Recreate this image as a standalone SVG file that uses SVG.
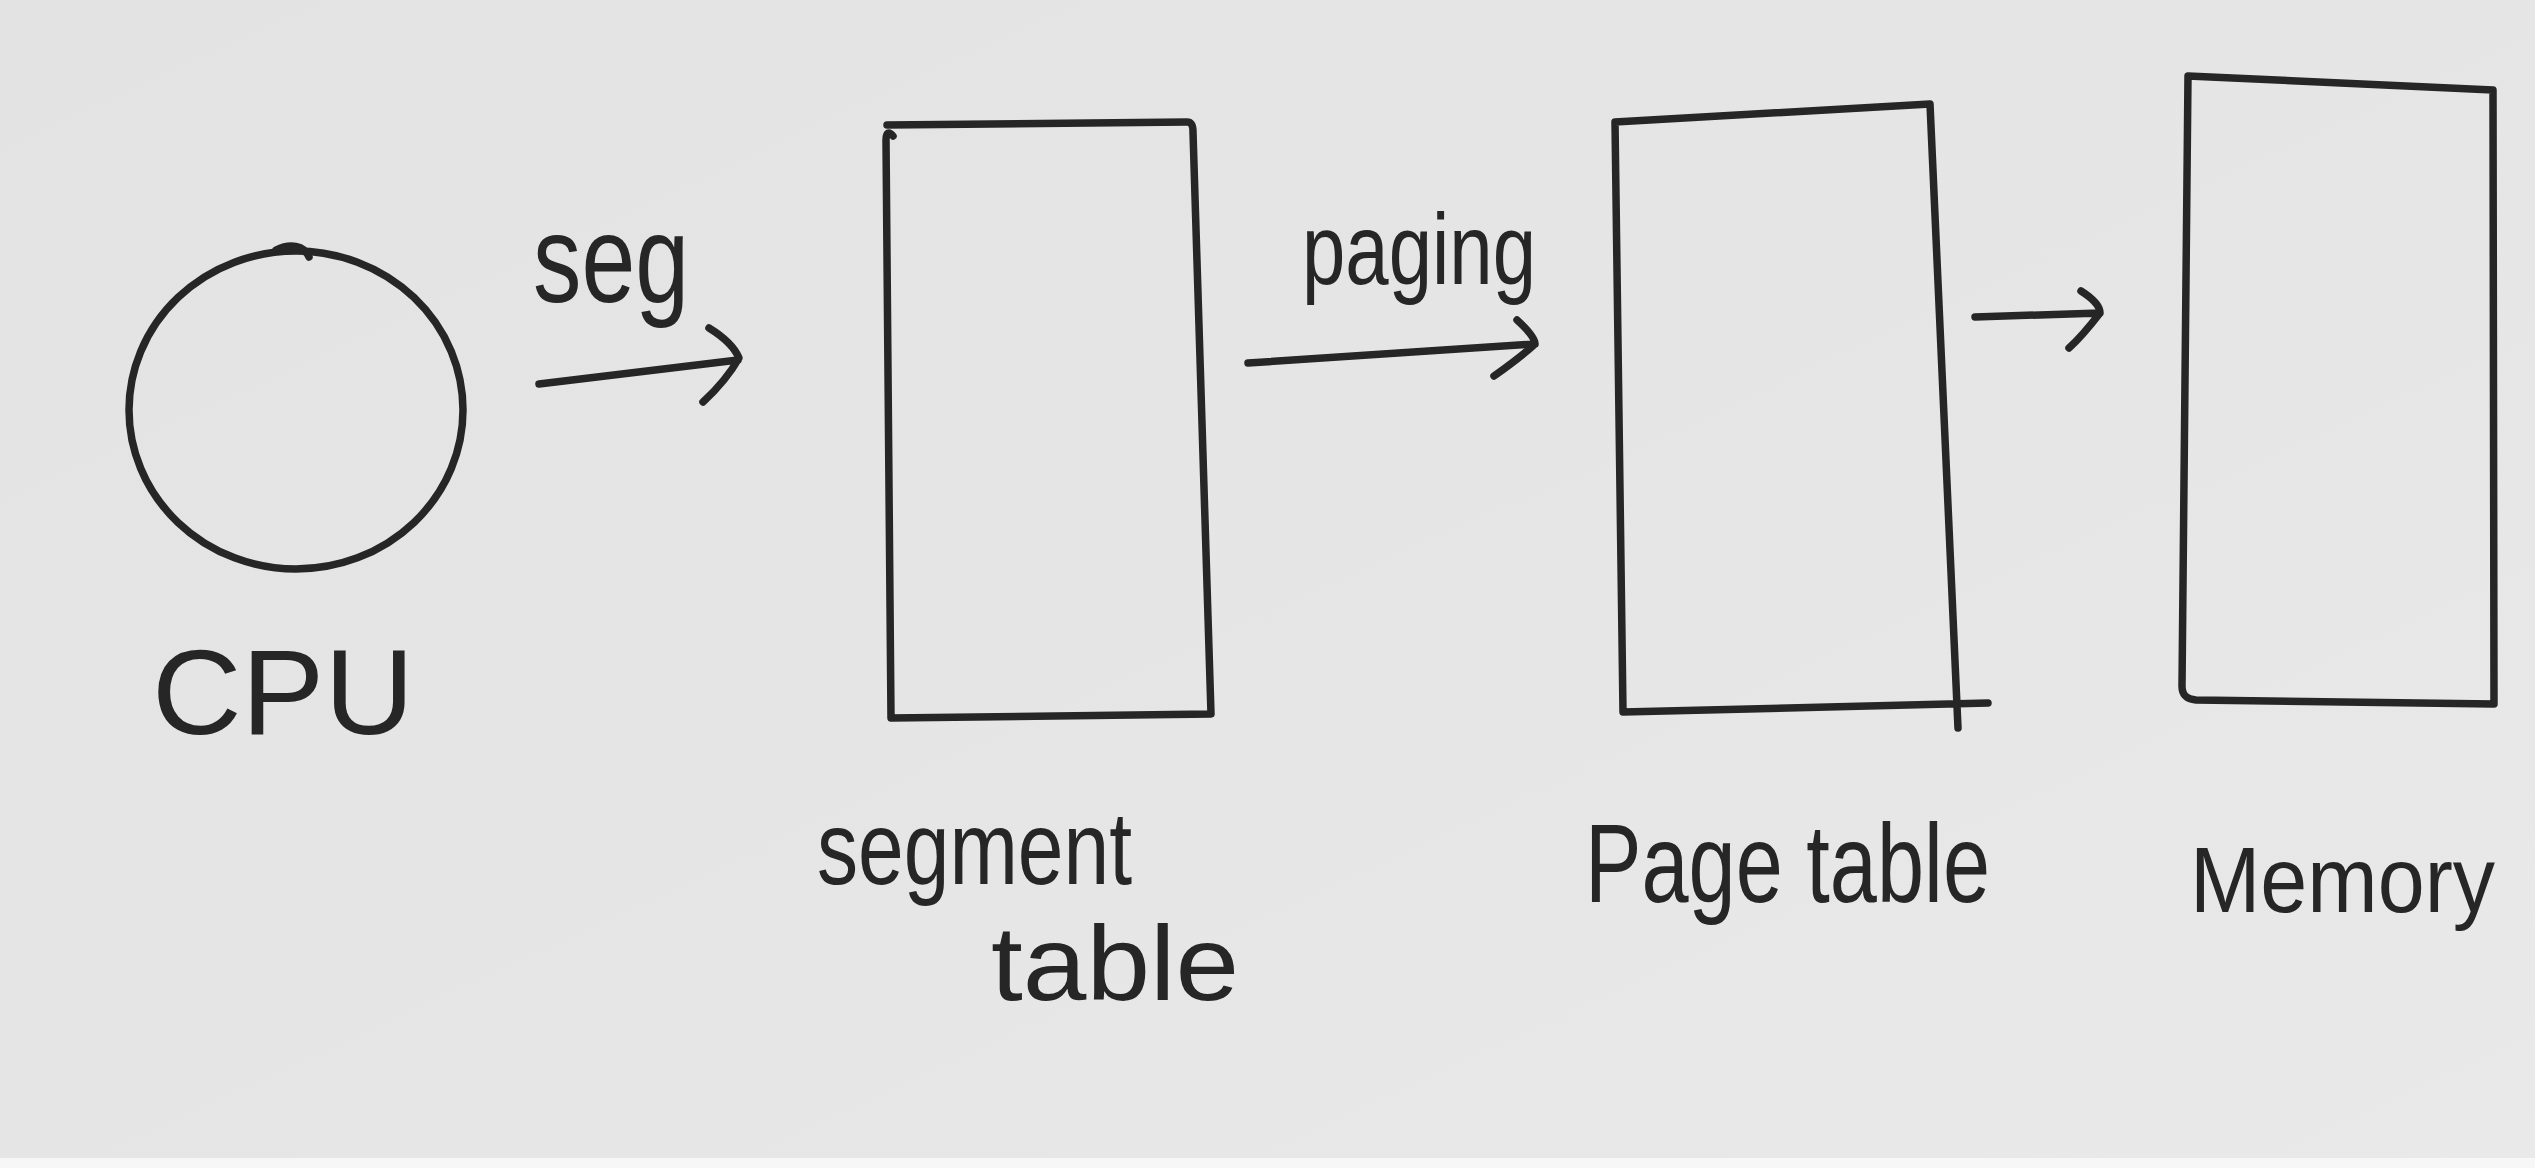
<svg xmlns="http://www.w3.org/2000/svg" width="2535" height="1168" viewBox="0 0 2535 1168">
  <defs>
    <linearGradient id="paper" x1="0" y1="0" x2="1" y2="1">
      <stop offset="0" stop-color="#e3e3e3"/>
      <stop offset="0.6" stop-color="#e6e6e6"/>
      <stop offset="1" stop-color="#e9e9e9"/>
    </linearGradient>
  </defs>
  <style>
    .ink { fill: none; stroke: #262626; stroke-width: 7.5; stroke-linecap: round; stroke-linejoin: round; }
    .hand { font-family: "Liberation Sans", "DejaVu Sans", sans-serif; fill: #262626; }
  </style>
  <rect x="0" y="0" width="2535" height="1168" fill="url(#paper)"/>
  <rect x="0" y="1158" width="2535" height="10" fill="#f7f7f7"/>

  <g id="cpu">
    <ellipse class="ink" cx="296" cy="410" rx="167" ry="159"/>
    <path class="ink" d="M276,250 C290,243 304,245 309,257"/>
    <text class="hand" x="283" y="734" font-size="120" text-anchor="middle" textLength="262" lengthAdjust="spacingAndGlyphs">CPU</text>
  </g>

  <g id="segment-table">
    <path class="ink" d="M887,125 L1187,122 C1192,122 1193,126 1193,132 L1211,714 L891,718 L886,140 C886,132 889,131 893,136"/>
    <text class="hand" x="817" y="884" font-size="104" textLength="315" lengthAdjust="spacingAndGlyphs">segment</text>
    <text class="hand" x="991" y="1000" font-size="106" textLength="248" lengthAdjust="spacingAndGlyphs">table</text>
  </g>

  <g id="page-table">
    <path class="ink" d="M1615,122 L1930,104 L1958,728 M1615,122 L1623,712 L1988,703"/>
    <text class="hand" x="1585" y="902" font-size="112" textLength="405" lengthAdjust="spacingAndGlyphs">Page table</text>
  </g>

  <g id="memory">
    <path class="ink" d="M2188,76 L2493,90 L2494,704 L2196,700 C2186,699 2182,695 2182,686 L2185,380 L2188,76"/>
    <text class="hand" x="2190" y="912" font-size="93" textLength="305" lengthAdjust="spacingAndGlyphs">Memory</text>
  </g>

  <g id="connectors">
    <path class="ink" d="M539,384 L738,360 M709,328 C722,336 734,346 739,358 C730,374 716,390 703,402"/>
    <text class="hand" x="533" y="302" font-size="125" textLength="156" lengthAdjust="spacingAndGlyphs">seg</text>
    <path class="ink" d="M1248,363 L1535,344 M1517,320 C1528,330 1535,338 1535,344 C1522,356 1508,366 1494,376"/>
    <text class="hand" x="1302" y="284" font-size="100" textLength="234" lengthAdjust="spacingAndGlyphs">paging</text>
    <path class="ink" d="M1975,317 L2100,313 M2081,291 C2092,298 2100,306 2100,313 C2090,326 2080,338 2069,348"/>
  </g>
</svg>
